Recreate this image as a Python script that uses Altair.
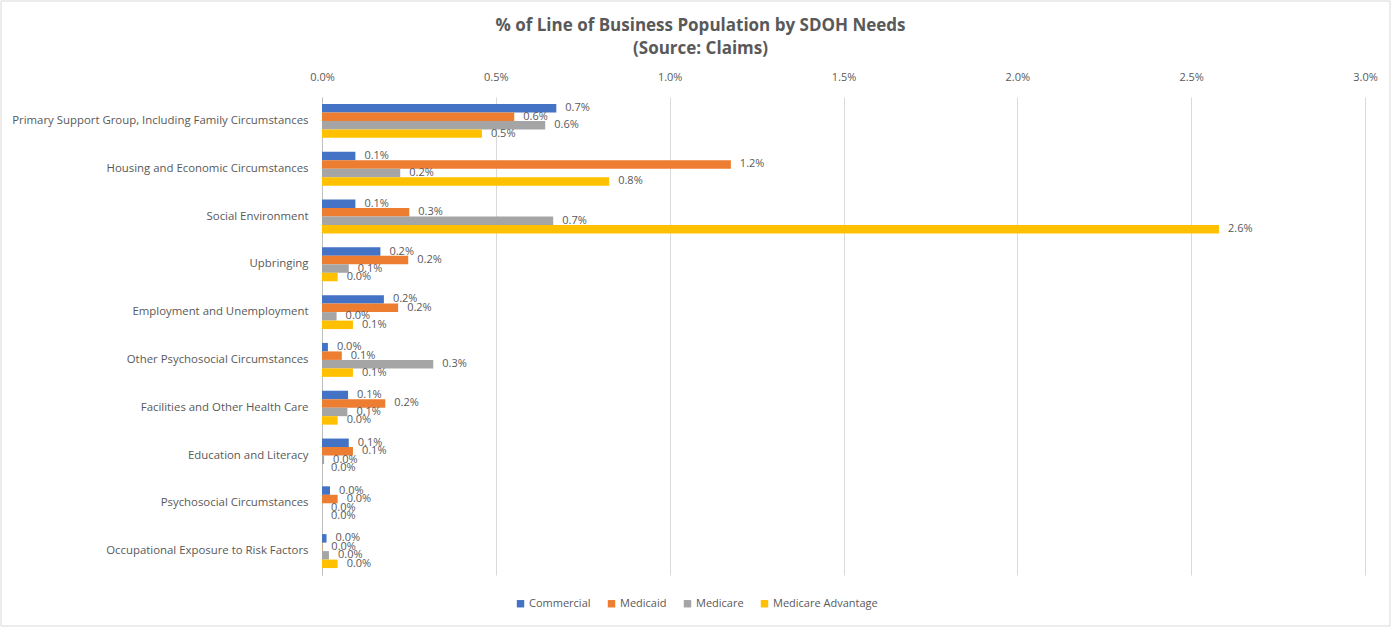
import altair as alt
import pandas as pd

categories = [
    "Primary Support Group, Including Family Circumstances",
    "Housing and Economic Circumstances",
    "Social Environment",
    "Upbringing",
    "Employment and Unemployment",
    "Other Psychosocial Circumstances",
    "Facilities and Other Health Care",
    "Education and Literacy",
    "Psychosocial Circumstances",
    "Occupational Exposure to Risk Factors",
]
series = ["Commercial", "Medicaid", "Medicare", "Medicare Advantage"]
colors = ["#4472C4", "#ED7D31", "#A5A5A5", "#FFC000"]

# values in percent
commercial = [0.674, 0.096, 0.096, 0.168, 0.178, 0.017, 0.075, 0.077, 0.023, 0.013]
medicaid = [0.553, 1.176, 0.251, 0.248, 0.219, 0.057, 0.182, 0.089, 0.045, 0.001]
medicare = [0.642, 0.225, 0.665, 0.077, 0.042, 0.320, 0.073, 0.006, 0.0, 0.020]
medicare_adv = [0.460, 0.826, 2.580, 0.045, 0.089, 0.089, 0.045, 0.0, 0.0, 0.045]

rows = []
for s, vals in zip(series, [commercial, medicaid, medicare, medicare_adv]):
    for c, v in zip(categories, vals):
        rows.append({"category": c, "series": s, "value": v})
df = pd.DataFrame(rows)

W, H = 1043, 478
FONT = "Open Sans"
GRAY = "#595959"

y_enc = alt.Y("category:N", sort=categories, title=None,
              scale=alt.Scale(paddingInner=0.29, paddingOuter=0.145),
              axis=alt.Axis(domain=True, domainColor="#BFBFBF", ticks=False,
                            labelPadding=14, labelFontSize=11.4, labelColor=GRAY,
                            labelFont=FONT, labelLimit=400, grid=False))
yoff = alt.YOffset("series:N", sort=series, scale=alt.Scale(domain=series))

base = alt.Chart(df)

bars = base.mark_bar().encode(
    y=y_enc,
    yOffset=yoff,
    x=alt.X("value:Q", title=None,
            scale=alt.Scale(domain=[0, 3.0], nice=False),
            axis=alt.Axis(orient="top", values=[0, 0.5, 1.0, 1.5, 2.0, 2.5, 3.0],
                          labelExpr="format(datum.value, '.1f') + '%'",
                          domain=False, ticks=False, labelPadding=15, labelFlush=False,
                          labelFontSize=11, labelColor=GRAY, labelFont=FONT,
                          grid=True, gridColor="#D9D9D9")),
    color=alt.Color("series:N", sort=series,
                    scale=alt.Scale(domain=series, range=colors),
                    legend=alt.Legend(title=None, orient="none", direction="horizontal",
                                      legendX=193, legendY=501, symbolType="square",
                                      symbolSize=55, symbolStrokeWidth=0,
                                      labelFontSize=11, labelColor=GRAY, labelFont=FONT,
                                      columnPadding=15, symbolOffset=0, labelOffset=3)),
)

labels = base.transform_calculate(
    label="format(datum.value, '.1f') + '%'"
).mark_text(align="left", baseline="middle", dx=9, fontSize=11, color=GRAY, font=FONT).encode(
    y=alt.Y("category:N", sort=categories),
    yOffset=yoff,
    x=alt.X("value:Q"),
    text="label:N",
)

border = alt.Chart(pd.DataFrame({"a": [0]})).mark_rect(
    fill=None, stroke="#D9D9D9", strokeWidth=1
).encode(
    x=alt.value(-321), x2=alt.value(W + 25),
    y=alt.value(-96), y2=alt.value(H + 51),
)

chart = alt.layer(bars, labels, border).properties(
    width=W, height=H,
    autosize=alt.AutoSizeParams(type="none"),
    padding={"left": 322, "top": 97, "right": 30, "bottom": 52},
    title=alt.TitleParams(
        text=["% of Line of Business Population by SDOH Needs", "(Source: Claims)"],
        anchor="middle", frame="group", dx=-143, fontSize=17, fontWeight="bold",
        color=GRAY, font=FONT, lineHeight=23, offset=-57,
    ),
).configure(background="white").configure_view(stroke=None)

chart.save("out.html", embed_options={"renderer": "svg", "actions": False})
